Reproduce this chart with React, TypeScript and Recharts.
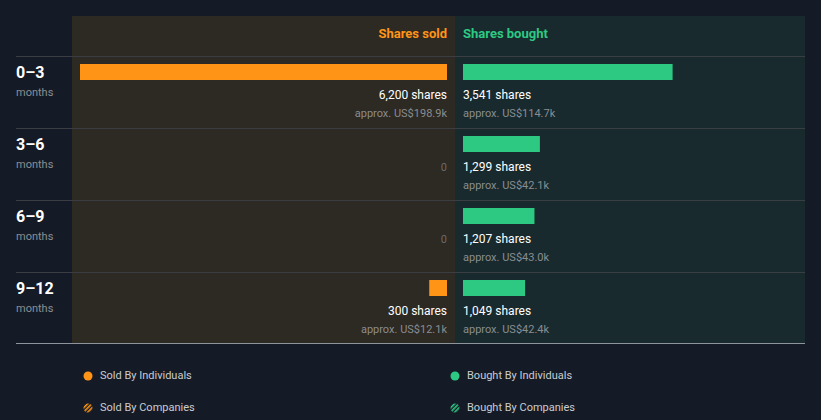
import React from 'react';
import { BarChart, Bar, XAxis, YAxis, LabelList } from 'recharts';

const periods = ['0–3', '3–6', '6–9', '9–12'];
const soldShares = [6200, 0, 0, 300];
const boughtShares = [3541, 1299, 1207, 1049];
const soldValue = ['US$198.9k', '', '', 'US$12.1k'];
const boughtValue = ['US$114.7k', 'US$42.1k', 'US$43.0k', 'US$42.4k'];
const legendItems = ['Sold By Individuals', 'Bought By Individuals', 'Sold By Companies', 'Bought By Companies'];

const ORANGE = '#ff9416';
const GREEN = '#2dc983';
const BG = '#151b26';
const FONT = 'Roboto, sans-serif';

const data = periods.map((p, i) => ({ period: p, sold: soldShares[i], bought: boughtShares[i], pad: 1 }));
const MAXV = Math.max(...soldShares, ...boughtShares);

const fmt = (n: number) => n.toLocaleString('en-US');

const getBox = (props: any) => {
  const vb = props.viewBox || {};
  const x = props.x ?? vb.x;
  const y = props.y ?? vb.y;
  const width = props.width ?? vb.width ?? 0;
  return { x: Number(x), y: Number(y), width: Number(width) };
};

// labels are attached to the (always present) transparent spacer bar under each coloured bar
const makeLabel = (side: 'sold' | 'bought') => (props: any) => {
  const { x, y, width } = getBox(props);
  const i = props.index;
  const shares = side === 'sold' ? soldShares[i] : boughtShares[i];
  const val = side === 'sold' ? soldValue[i] : boughtValue[i];
  const anchorX = side === 'sold' ? Math.max(x, x + width) : Math.min(x, x + width);
  const anchor = side === 'sold' ? 'end' : 'start';
  if (!shares) {
    return (
      <text x={anchorX} y={y + 19} textAnchor={anchor} fill="#6a6a6a" fontSize={11} fontFamily={FONT}>0</text>
    );
  }
  return (
    <g>
      <text x={anchorX} y={y + 19} textAnchor={anchor} fill="#ffffff" fontSize={12} fontWeight={400} fontFamily={FONT}>
        {fmt(shares)} shares
      </text>
      <text x={anchorX} y={y + 37} textAnchor={anchor} fill="#8a8d90" fontSize={11} fontFamily={FONT}>
        approx. {val}
      </text>
    </g>
  );
};

const abs = (s: React.CSSProperties): React.CSSProperties => ({ position: 'absolute', ...s });

const LegendIcon = ({ color, hatched, id }: { color: string; hatched: boolean; id: string }) => (
  <svg width={10} height={10} style={{ display: 'block' }}>
    {hatched ? (
      <>
        <defs>
          <pattern id={id} width={3} height={3} patternUnits="userSpaceOnUse" patternTransform="rotate(45)">
            <rect width={1.6} height={3} fill={color} />
          </pattern>
        </defs>
        <circle cx={5} cy={5} r={4.5} fill={`url(#${id})`} />
      </>
    ) : (
      <circle cx={5} cy={5} r={4.5} fill={color} />
    )}
  </svg>
);

export default function App() {
  const rows = [56, 128, 200, 272];
  return (
    <div style={{ position: 'absolute', left: 0, top: 0, width: 821, height: 420, background: BG, overflow: 'hidden', fontFamily: FONT }}>
      <div style={abs({ left: 72, top: 16, width: 383, height: 327, background: '#2d2923' })} />
      <div style={abs({ left: 455, top: 16, width: 350, height: 327, background: '#182a2e' })} />
      <div style={abs({ left: 255, top: 26, width: 192, textAlign: 'right', color: ORANGE, fontSize: 13, fontWeight: 700, lineHeight: '16px' })}>Shares sold</div>
      <div style={abs({ left: 463, top: 26, width: 200, color: GREEN, fontSize: 13, fontWeight: 700, lineHeight: '16px' })}>Shares bought</div>
      {rows.map((r) => (
        <div key={r} style={abs({ left: 16, top: r, width: 789, height: 1, background: '#3a3d42' })} />
      ))}
      <div style={abs({ left: 16, top: 343, width: 789, height: 1, background: '#8e949b' })} />
      {periods.map((p, i) => (
        <React.Fragment key={p}>
          <div style={abs({ left: 16, top: rows[i] + 7, color: '#ffffff', fontSize: 16, fontWeight: 700, lineHeight: '20px' })}>{p}</div>
          <div style={abs({ left: 16, top: rows[i] + 30, color: '#8a8f94', fontSize: 11, lineHeight: '14px' })}>months</div>
        </React.Fragment>
      ))}
      <div style={abs({ left: 72, top: 56 })}>
        <BarChart layout="vertical" width={383} height={288} data={data} margin={{ top: 0, right: 8, bottom: 0, left: 8 }} barGap={0}>
          <XAxis type="number" hide domain={[0, MAXV]} reversed allowDataOverflow />
          <YAxis type="category" dataKey="period" hide />
          <Bar dataKey="sold" barSize={16} fill={ORANGE} isAnimationActive={false} />
          <Bar dataKey="pad" barSize={40} fill="transparent" isAnimationActive={false}>
            <LabelList dataKey="pad" content={makeLabel('sold')} />
          </Bar>
        </BarChart>
      </div>
      <div style={abs({ left: 455, top: 56 })}>
        <BarChart layout="vertical" width={383} height={288} data={data} margin={{ top: 0, right: 8, bottom: 0, left: 8 }} barGap={0}>
          <XAxis type="number" hide domain={[0, MAXV]} allowDataOverflow />
          <YAxis type="category" dataKey="period" hide />
          <Bar dataKey="bought" barSize={16} fill={GREEN} isAnimationActive={false} />
          <Bar dataKey="pad" barSize={40} fill="transparent" isAnimationActive={false}>
            <LabelList dataKey="pad" content={makeLabel('bought')} />
          </Bar>
        </BarChart>
      </div>
      {legendItems.map((t, i) => {
        const col = i % 2;
        const row = Math.floor(i / 2);
        const color = col === 0 ? ORANGE : GREEN;
        const left = col === 0 ? 83 : 450;
        const top = row === 0 ? 371 : 403;
        return (
          <div key={t} style={abs({ left, top, display: 'flex', alignItems: 'center', height: 10 })}>
            <LegendIcon color={color} hatched={row === 1} id={`hatch${i}`} />
            <span style={{ marginLeft: 7, color: '#c9ccd0', fontSize: 11, lineHeight: '10px' }}>{t}</span>
          </div>
        );
      })}
    </div>
  );
}
